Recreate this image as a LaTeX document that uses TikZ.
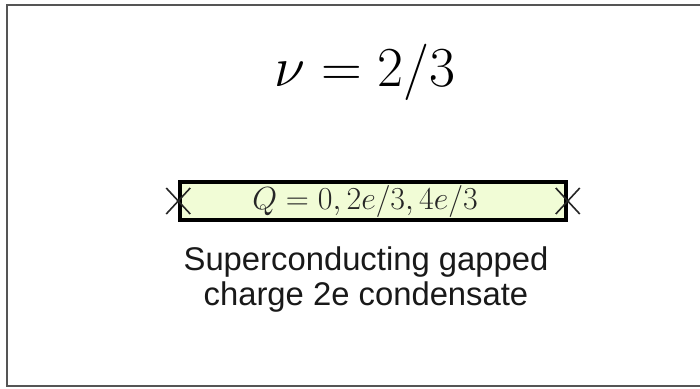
\RequirePackage{fix-cm}
\documentclass[tikz,border=0pt]{standalone}
\usepackage{fontspec}
\setsansfont{Liberation Sans}
\usetikzlibrary{calc}
\definecolor{boxfill}{HTML}{F1FCD6}
\definecolor{framegray}{HTML}{555555}
\tikzset{
  frameline/.style={draw=framegray, line width=2pt},
  chargebox/.style={draw=black, line width=3.5pt, fill=boxfill, minimum width=386pt, minimum height=38pt, inner sep=0pt},
  crossline/.style={draw=black!85, line width=1.6pt},
}
\begin{document}
\begin{tikzpicture}[x=1pt,y=-1pt]
\useasboundingbox[fill=white] (0,0) rectangle (700,388);
\coordinate (tr) at (702,5);
\coordinate (tl) at (7,5);
\coordinate (bl) at (7,386);
\coordinate (br) at (702,386);
\draw[frameline] (tr) -- (tl) -- (bl) -- (br);
\node (title) at (365,72) {\fontsize{56.5}{60}\selectfont $\nu = 2/3$};
\node[chargebox] (bar) at (373,201) {};
\node[text=black!85] (q) at (365,201) {\fontsize{32}{34}\selectfont $Q=0,2e/3,4e/3$};
\foreach \s/\p in {l/west, r/east}{
  \coordinate (\s1) at ($(bar.\p)+(-12,-13)$);
  \coordinate (\s2) at ($(bar.\p)+(12,13)$);
  \coordinate (\s3) at ($(bar.\p)+(-12,13)$);
  \coordinate (\s4) at ($(bar.\p)+(12,-13)$);
  \draw[crossline] (\s1) -- (\s2);
  \draw[crossline] (\s3) -- (\s4);
}
\node[align=center, font=\sffamily\fontsize{32.8}{35}\selectfont, text=black!90] (sub) at (366,280) {Superconducting gapped\\charge 2e condensate};
\end{tikzpicture}
\end{document}
